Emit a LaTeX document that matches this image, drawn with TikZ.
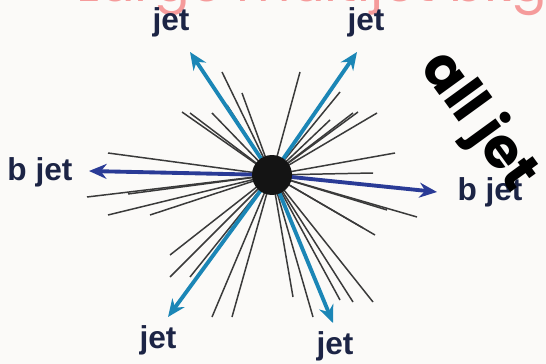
\documentclass[tikz,border=0pt]{standalone}
\usepackage{fontspec}
\setmainfont{Liberation Sans}
\newfontfamily\roundfont{Poppins}
\usetikzlibrary{arrows.meta}

\definecolor{jetblue}{HTML}{1B86B6}
\definecolor{bblue}{HTML}{2A3B96}
\definecolor{labelnavy}{HTML}{1C2445}
\definecolor{trackgray}{HTML}{3A3A3A}
\definecolor{titlepink}{HTML}{F59B9B}
\definecolor{paper}{HTML}{FBFAF8}

\tikzset{
  track/.style={trackgray,line width=0.85pt},
  jetarrow/.style={jetblue,line width=2.2pt,-{Stealth[length=10pt,width=8.5pt]}},
  barrow/.style={bblue,line width=2.2pt,-{Stealth[length=10pt,width=8.5pt]}},
  jetlabel/.style={labelnavy,font=\fontsize{18}{18}\selectfont\bfseries,inner sep=0pt}
}

\begin{document}
\begin{tikzpicture}[x=0.02cm,y=-0.02cm]
\fill[paper] (0,0) rectangle (546,364);
\useasboundingbox (0,0) rectangle (546,364);

% title, cut off at the top edge
\node[titlepink,font=\roundfont\fontsize{30}{30}\selectfont,anchor=base,inner sep=0pt] (title) at (312,1.5) {Large multijet bkg};

\coordinate (vtx) at (272,175);

% soft tracks
\foreach \p in {(108,153),(190,113),(212,113),(227,105),(182,112),(222,72),(242,93),(205,75),
                (300,72),(340,92),(358,112),(330,120),(353,113),(377,113),(395,153),(373,173),
                (87,197),(128,194),(108,215),(150,215),(170,255),(170,277),(190,277),(212,317),(232,317),
                (393,188),(417,217),(387,210),(363,228),(375,235),(293,297),(313,317),(340,300),(353,302),(373,302)}
  \draw[track] (vtx) -- \p;

% jets
\coordinate (tlend) at (190,52);
\coordinate (trend) at (357,52);
\coordinate (blend) at (168,317);
\coordinate (brend) at (333,323);
\coordinate (lbend) at (89,171);
\coordinate (rbend) at (437,192);
\draw[jetarrow] (vtx) -- (tlend);
\draw[jetarrow] (vtx) -- (trend);
\draw[jetarrow] (vtx) -- (blend);
\draw[jetarrow] (vtx) -- (brend);
\draw[barrow] (vtx) -- (lbend);
\draw[barrow] (vtx) -- (rbend);

\node[circle,fill=black!92,minimum size=0.8cm,inner sep=0pt] (dot) at (vtx) {};

\node[jetlabel] (tljet) at (171,22) {jet};
\node[jetlabel] (trjet) at (366,22) {jet};
\node[jetlabel] (bljet) at (158,340) {jet};
\node[jetlabel] (brjet) at (335,346) {jet};
\node[jetlabel] (lbjet) at (40,172) {b jet};
\node[jetlabel] (rbjet) at (490,192) {b jet};

\node[font=\roundfont\fontsize{32}{32}\selectfont\bfseries,rotate=-54,inner sep=0pt] (alljet) at (478,122) {all jet};
\end{tikzpicture}
\end{document}
